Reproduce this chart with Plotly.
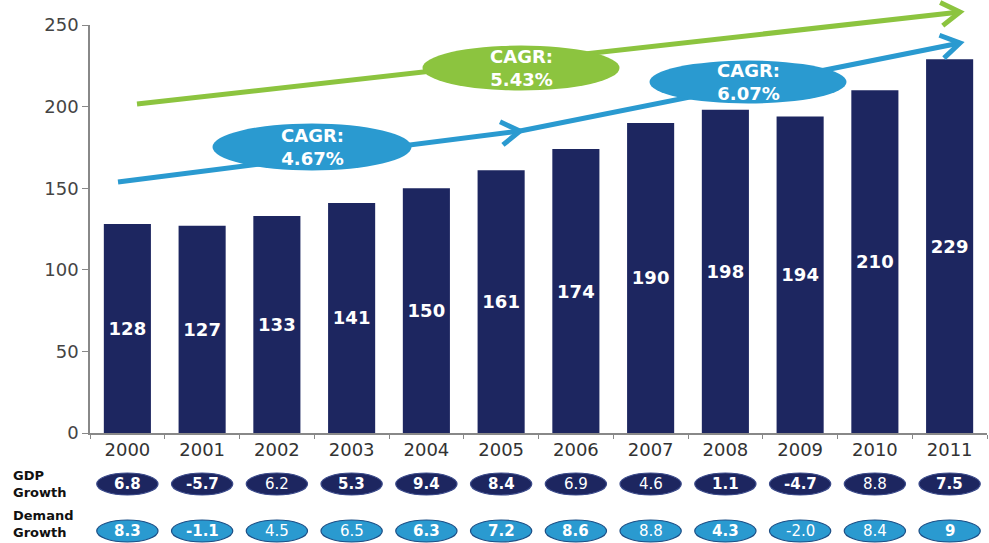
import math
import plotly.graph_objects as go

# Annual electricity demand (TWh) with GDP and demand growth rates (%)
years = ["2000", "2001", "2002", "2003", "2004", "2005",
         "2006", "2007", "2008", "2009", "2010", "2011"]
demand = [128, 127, 133, 141, 150, 161, 174, 190, 198, 194, 210, 229]
gdp_growth = ["6.8", "-5.7", "6.2", "5.3", "9.4", "8.4", "6.9", "4.6", "1.1", "-4.7", "8.8", "7.5"]
demand_growth = ["8.3", "-1.1", "4.5", "6.5", "6.3", "7.2", "8.6", "8.8", "4.3", "-2.0", "8.4", "9"]
cagr_labels = ["4.67%", "6.07%", "5.43%"]
row_labels = ["GDP<br>Growth", "Demand<br>Growth"]

NAVY = "#1d2660"
BLUE = "#2a9ad0"
GREEN = "#8cc43f"

W, H = 989, 543
M_L, M_R, M_T, M_B = 90, 2, 25, 110
PW = W - M_L - M_R
PH = H - M_T - M_B


def px(x, y):
    """Page pixel position -> paper coordinates."""
    return (x - M_L) / PW, (H - M_B - y) / PH


fig = go.Figure()
fig.add_trace(go.Bar(
    x=years, y=demand,
    marker=dict(color=NAVY, line=dict(width=0)),
    text=demand, texttemplate="%{text}",
    textposition="inside", insidetextanchor="middle", textangle=0,
    textfont=dict(family="DejaVu Sans", size=18, color="white", weight="bold"),
    hoverinfo="x+y",
))

shapes = []
annotations = []


def arrow(p0, p1, color, width=5, head=22, spread=32):
    x0, y0 = p0
    x1, y1 = p1
    a0, b0 = px(x0, y0)
    a1, b1 = px(x1, y1)
    shapes.append(dict(type="line", xref="paper", yref="paper",
                       x0=a0, y0=b0, x1=a1, y1=b1,
                       line=dict(color=color, width=width)))
    ang = math.atan2(y1 - y0, x1 - x0)
    pts = []
    for s in (spread, -spread):
        t = ang + math.pi - math.radians(s)
        pts.append(px(x1 + head * math.cos(t), y1 + head * math.sin(t)))
    path = "M {} {} L {} {} L {} {}".format(pts[0][0], pts[0][1], a1, b1, pts[1][0], pts[1][1])
    shapes.append(dict(type="path", xref="paper", yref="paper", path=path,
                       line=dict(color=color, width=width)))


def bubble(cx, cy, w, h, color, label):
    a0, b0 = px(cx - w / 2, cy + h / 2)
    a1, b1 = px(cx + w / 2, cy - h / 2)
    shapes.append(dict(type="circle", xref="paper", yref="paper",
                       x0=a0, y0=b0, x1=a1, y1=b1,
                       fillcolor=color, line=dict(width=0)))
    ax_, ay_ = px(cx, cy)
    annotations.append(dict(xref="paper", yref="paper", x=ax_, y=ay_,
                            text="CAGR:<br>" + label, showarrow=False,
                            font=dict(family="DejaVu Sans", size=18, color="white", weight="bold"),
                            xanchor="center", yanchor="middle", align="center"))


# Growth trend arrows
arrow((137, 104), (960, 12), GREEN)
arrow((118, 182), (520, 131), BLUE)
arrow((520, 131), (960, 43), BLUE)
bubble(521, 68, 197, 45, GREEN, cagr_labels[2])
bubble(312, 147, 199, 47, BLUE, cagr_labels[0])
bubble(748, 82, 197, 43, BLUE, cagr_labels[1])

# Growth rows under the axis
row_gdp_y = px(0, 484)[1]
row_dem_y = px(0, 531)[1]
eh = 11 / PH
thin_gdp = {"6.2", "6.9", "4.6", "8.8"}
thin_dem = {"4.5", "6.5", "8.8", "-2.0", "8.4"}
for i, yr in enumerate(years):
    for val, cy, fill, edge, thin in (
        (gdp_growth[i], row_gdp_y, NAVY, "#3b4a8a", thin_gdp),
        (demand_growth[i], row_dem_y, BLUE, "#1d4f86", thin_dem),
    ):
        shapes.append(dict(type="circle", xref="x", yref="paper",
                           x0=i - 0.41, x1=i + 0.41, y0=cy - eh, y1=cy + eh,
                           fillcolor=fill, line=dict(color=edge, width=1.2)))
        annotations.append(dict(xref="x", yref="paper", x=i, y=cy, text=val,
                                showarrow=False, xanchor="center", yanchor="middle",
                                font=dict(family="DejaVu Sans", size=15, color="white",
                                          weight="normal" if val in thin else "bold")))

for txt, yy in zip(row_labels, (484, 524)):
    lx, ly = px(12, yy)
    annotations.append(dict(xref="paper", yref="paper", x=lx, y=ly, text=txt,
                            showarrow=False, xanchor="left", yanchor="middle",
                            align="left", borderpad=0,
                            font=dict(family="DejaVu Sans", size=13, color="#111", weight="bold")))

fig.update_layout(
    width=W, height=H,
    margin=dict(l=M_L, r=M_R, t=M_T, b=M_B),
    paper_bgcolor="white", plot_bgcolor="white",
    bargap=0.37,
    showlegend=False,
    shapes=shapes,
    annotations=annotations,
    font=dict(family="DejaVu Sans", color="#333"),
    xaxis=dict(type="category", range=[-0.5, 11.5], showline=True, linecolor="#888",
               linewidth=1.5, ticks="outside", tickson="boundaries", ticklen=4,
               tickcolor="#888", showgrid=False,
               tickfont=dict(family="DejaVu Sans", size=18, color="#333")),
    yaxis=dict(range=[0, 250], dtick=50, showline=True, linecolor="#888",
               linewidth=1.5, ticks="outside", ticklen=6, tickcolor="#888",
               showgrid=False, zeroline=False,
               tickfont=dict(family="DejaVu Sans", size=18, color="#444")),
)

fig.write_html("out.html")
